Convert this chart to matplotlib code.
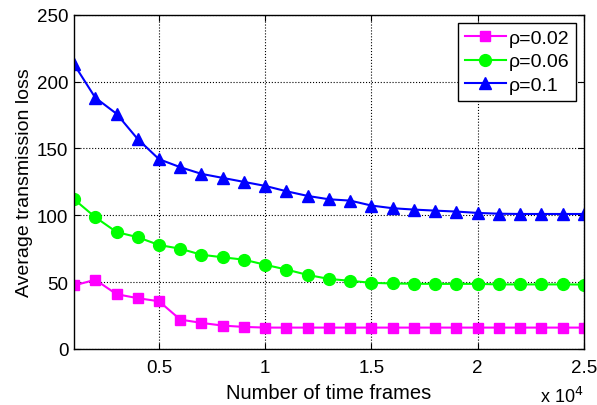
import matplotlib.pyplot as plt
from matplotlib.ticker import FuncFormatter

plt.rcParams['font.family'] = ['Liberation Sans', 'DejaVu Sans']

frames = list(range(1000, 26000, 1000))
loss_002 = [47.5, 51.8, 41, 38, 35.7, 22, 19.5, 17.5, 16.5, 16, 16, 16, 16, 16, 16,
            16, 16, 16, 16, 16, 16, 16, 16, 16, 16]
loss_006 = [112, 98.6, 87.5, 83.6, 77.8, 75, 70.5, 68.6, 66.8, 63, 59.4, 55.4, 52.4, 51,
            49.5, 49, 48.8, 48.7, 48.7, 48.7, 48.3, 48.3, 48.3, 48.3, 48.2]
loss_01 = [213, 188, 176, 157, 142, 136, 131, 128, 125, 122, 118, 114.5, 112, 111, 107.3,
           105.3, 104.3, 103.5, 102.8, 101.8, 101.2, 101, 101, 101, 101]

fig = plt.figure(figsize=(5.97, 4.06), dpi=100)
ax = fig.add_axes([0.124, 0.138, 0.854, 0.823])

ax.plot(frames, loss_002, color='#ff00ff', marker='s', markersize=7.5, lw=1.5, label='ρ=0.02')
ax.plot(frames, loss_006, color='#00ff00', marker='o', markersize=8.5, lw=1.5, label='ρ=0.06')
ax.plot(frames, loss_01, color='#0000ff', marker='^', markersize=9, lw=1.5, label='ρ=0.1')

ax.set_xlim(1000, 25000)
ax.set_ylim(0, 250)
ax.set_xticks([5000, 10000, 15000, 20000, 25000])
ax.set_yticks([0, 50, 100, 150, 200, 250])
ax.xaxis.set_major_formatter(FuncFormatter(lambda v, p: '%g' % (v / 1e4)))
ax.tick_params(direction='in', labelsize=13.5, top=True, right=True, length=4)
ax.tick_params(axis='x', pad=7)
ax.tick_params(axis='y', pad=4)
ax.grid(True, color='black', linestyle=':', linewidth=0.8)
for s in ax.spines.values():
    s.set_linewidth(1.0)

ax.set_xlabel('Number of time frames', fontsize=14.5, labelpad=5)
ax.set_ylabel('Average transmission loss', fontsize=14, labelpad=3)
fig.text(0.905, 0.022, 'x 10$^4$', fontsize=13, ha='left', va='center')

leg = ax.legend(loc='upper right', fontsize=14, fancybox=False, framealpha=1,
                edgecolor='black', borderpad=0.35, handlelength=2.1, labelspacing=0.3,
                handletextpad=0.15, borderaxespad=0.4)
leg.get_frame().set_linewidth(1.0)

fig.savefig('out.png', dpi=100)
